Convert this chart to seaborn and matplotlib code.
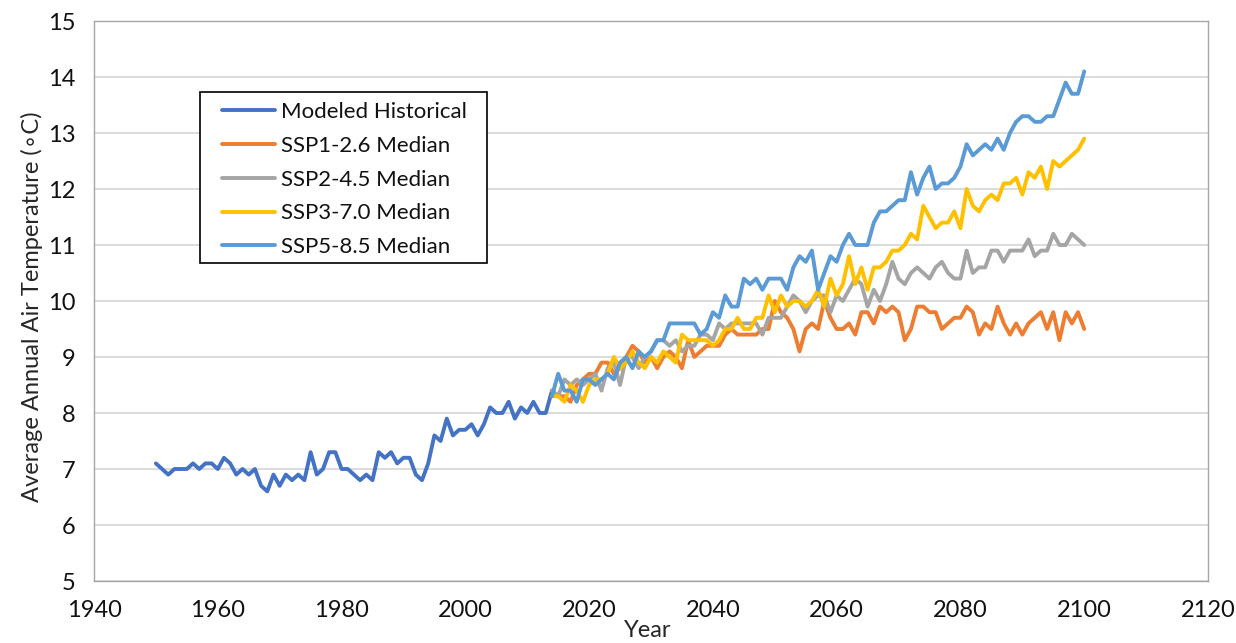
import matplotlib
matplotlib.use("Agg")
import matplotlib.pyplot as plt
from matplotlib.patches import Rectangle
import pandas as pd
import seaborn as sns

# ---- data -------------------------------------------------------------
hist_years = list(range(1950, 2015))
hist_temp = [
    7.1, 7.0, 6.9, 7.0, 7.0, 7.0, 7.1, 7.0, 7.1, 7.1,
    7.0, 7.2, 7.1, 6.9, 7.0, 6.9, 7.0, 6.7, 6.6, 6.9,
    6.7, 6.9, 6.8, 6.9, 6.8, 7.3, 6.9, 7.0, 7.3, 7.3,
    7.0, 7.0, 6.9, 6.8, 6.9, 6.8, 7.3, 7.2, 7.3, 7.1,
    7.2, 7.2, 6.9, 6.8, 7.1, 7.6, 7.5, 7.9, 7.6, 7.7,
    7.7, 7.8, 7.6, 7.8, 8.1, 8.0, 8.0, 8.2, 7.9, 8.1,
    8.0, 8.2, 8.0, 8.0, 8.4,
]

scen_years = list(range(2014, 2101))
ssp126 = [
    8.4, 8.3, 8.3, 8.2, 8.5, 8.6, 8.7, 8.7, 8.9, 8.9,
    8.7, 8.8, 9.0, 9.2, 9.1, 8.9, 9.0, 8.8, 9.0, 9.1,
    9.0, 8.8, 9.3, 9.0, 9.1, 9.2, 9.2, 9.2, 9.4, 9.5,
    9.4, 9.4, 9.4, 9.4, 9.5, 9.5, 10.0, 9.8, 9.7, 9.5,
    9.1, 9.5, 9.6, 9.5, 10.0, 9.7, 9.5, 9.5, 9.6, 9.4,
    9.8, 9.8, 9.6, 9.9, 9.8, 9.9, 9.8, 9.3, 9.5, 9.9,
    9.9, 9.8, 9.8, 9.5, 9.6, 9.7, 9.7, 9.9, 9.8, 9.4,
    9.6, 9.5, 9.9, 9.6, 9.4, 9.6, 9.4, 9.6, 9.7, 9.8,
    9.5, 9.8, 9.3, 9.8, 9.6, 9.8, 9.5,
]
ssp245 = [
    8.4, 8.3, 8.6, 8.5, 8.6, 8.5, 8.6, 8.7, 8.4, 8.8,
    8.9, 8.5, 9.0, 9.0, 8.8, 9.0, 9.1, 9.3, 9.3, 9.2,
    9.3, 9.1, 9.2, 9.2, 9.4, 9.4, 9.3, 9.6, 9.5, 9.6,
    9.6, 9.6, 9.6, 9.6, 9.4, 9.7, 9.7, 9.7, 9.9, 10.1,
    10.0, 9.8, 10.0, 10.1, 10.1, 9.8, 10.1, 10.0, 10.2, 10.4,
    10.3, 9.9, 10.2, 10.0, 10.3, 10.7, 10.4, 10.3, 10.5, 10.6,
    10.5, 10.4, 10.6, 10.7, 10.5, 10.4, 10.4, 10.9, 10.5, 10.6,
    10.6, 10.9, 10.9, 10.7, 10.9, 10.9, 10.9, 11.1, 10.8, 10.9,
    10.9, 11.2, 11.0, 11.0, 11.2, 11.1, 11.0,
]
ssp370 = [
    8.3, 8.3, 8.2, 8.5, 8.4, 8.2, 8.5, 8.6, 8.6, 8.7,
    9.0, 8.8, 8.9, 9.1, 8.9, 8.8, 9.0, 8.9, 9.1, 9.0,
    8.9, 9.4, 9.3, 9.3, 9.3, 9.3, 9.2, 9.3, 9.5, 9.5,
    9.7, 9.5, 9.5, 9.7, 9.7, 10.1, 9.8, 10.1, 9.9, 10.0,
    10.0, 9.9, 10.0, 10.2, 9.9, 10.4, 10.1, 10.3, 10.8, 10.3,
    10.6, 10.2, 10.6, 10.6, 10.7, 10.9, 10.9, 11.0, 11.2, 11.1,
    11.7, 11.5, 11.3, 11.4, 11.4, 11.6, 11.3, 12.0, 11.7, 11.6,
    11.8, 11.9, 11.8, 12.1, 12.1, 12.2, 11.9, 12.3, 12.2, 12.4,
    12.0, 12.5, 12.4, 12.5, 12.6, 12.7, 12.9,
]
ssp585 = [
    8.3, 8.7, 8.4, 8.4, 8.2, 8.6, 8.6, 8.5, 8.6, 8.7,
    8.6, 8.9, 9.0, 8.8, 9.1, 9.0, 9.1, 9.3, 9.3, 9.6,
    9.6, 9.6, 9.6, 9.6, 9.4, 9.5, 9.8, 9.7, 10.1, 9.9,
    9.9, 10.4, 10.3, 10.4, 10.2, 10.4, 10.4, 10.4, 10.2, 10.6,
    10.8, 10.7, 10.9, 10.2, 10.5, 10.8, 10.7, 11.0, 11.2, 11.0,
    11.0, 11.0, 11.4, 11.6, 11.6, 11.7, 11.8, 11.8, 12.3, 11.9,
    12.2, 12.4, 12.0, 12.1, 12.1, 12.2, 12.4, 12.8, 12.6, 12.7,
    12.8, 12.7, 12.9, 12.7, 13.0, 13.2, 13.3, 13.3, 13.2, 13.2,
    13.3, 13.3, 13.6, 13.9, 13.7, 13.7, 14.1,
]

series_names = [
    "Modeled Historical",
    "SSP1-2.6 Median",
    "SSP2-4.5 Median",
    "SSP3-7.0 Median",
    "SSP5-8.5 Median",
]
series_colors = ["#4472C4", "#ED7D31", "#A5A5A5", "#FFC000", "#5B9BD5"]

x_ticks = list(range(1940, 2121, 20))
y_ticks = list(range(5, 16))

# ---- long-form table --------------------------------------------------
frames = [pd.DataFrame({"Year": hist_years, "Temp": hist_temp,
                        "Series": series_names[0]})]
for name, vals in zip(series_names[1:], [ssp126, ssp245, ssp370, ssp585]):
    frames.append(pd.DataFrame({"Year": scen_years, "Temp": vals,
                                "Series": name}))
df = pd.concat(frames, ignore_index=True)

# ---- figure -----------------------------------------------------------
sns.set_theme(style="white")
plt.rcParams["font.family"] = ["Lato", "DejaVu Sans"]
plt.rcParams["text.color"] = "#111111"

W, H = 1236, 643
fig = plt.figure(figsize=(W / 100, H / 100), dpi=100)
ax_left, ax_right, ax_top, ax_bottom = 94, 1208, 21, 581
ax_w, ax_h = ax_right - ax_left, ax_bottom - ax_top
ax = fig.add_axes([ax_left / W, (H - ax_bottom) / H, ax_w / W, ax_h / H])

sns.lineplot(
    data=df, x="Year", y="Temp", hue="Series", hue_order=series_names,
    palette=dict(zip(series_names, series_colors)),
    estimator=None, sort=False, linewidth=2.8, ax=ax,
    solid_capstyle="round", solid_joinstyle="round",
)

ax.set_xlim(1940, 2120)
ax.set_ylim(5, 15)
ax.set_xticks(x_ticks)
ax.set_yticks(y_ticks)
ax.tick_params(axis="both", length=0, labelsize=17, colors="#111111")
ax.tick_params(axis="x", pad=14)
ax.tick_params(axis="y", pad=13.5)

ax.yaxis.grid(True, color="#D9D9D9", linewidth=1.3)
ax.xaxis.grid(False)
ax.set_axisbelow(True)
for sp in ax.spines.values():
    sp.set_color("#A6A6A6")
    sp.set_linewidth(1.0)

ax.set_xlabel("Year", fontsize=17)
ax.xaxis.set_label_coords((648 - ax_left) / ax_w, -(620 - ax_bottom) / ax_h)
ax.set_ylabel("Average Annual Air Temperature (\u2218C)", fontsize=17)
ax.yaxis.set_label_coords(-0.046, 0.49)

# legend: white box with a thin black border, entries placed inside it
box = Rectangle((200 / W, (H - 263) / H), 287 / W, 171 / H,
                transform=fig.transFigure, facecolor="white",
                edgecolor="black", linewidth=1.2, zorder=5)
ax.add_patch(box)
box.set_clip_on(False)

leg = ax.legend(
    loc="upper left",
    bbox_to_anchor=((222 - ax_left) / ax_w, (ax_bottom - 102) / ax_h),
    borderaxespad=0, borderpad=0, frameon=False,
    fontsize=16, handlelength=2.4, handletextpad=0.25, labelspacing=0.62,
    title=None,
)
leg.set_zorder(6)

fig.savefig("out.png", dpi=100)
